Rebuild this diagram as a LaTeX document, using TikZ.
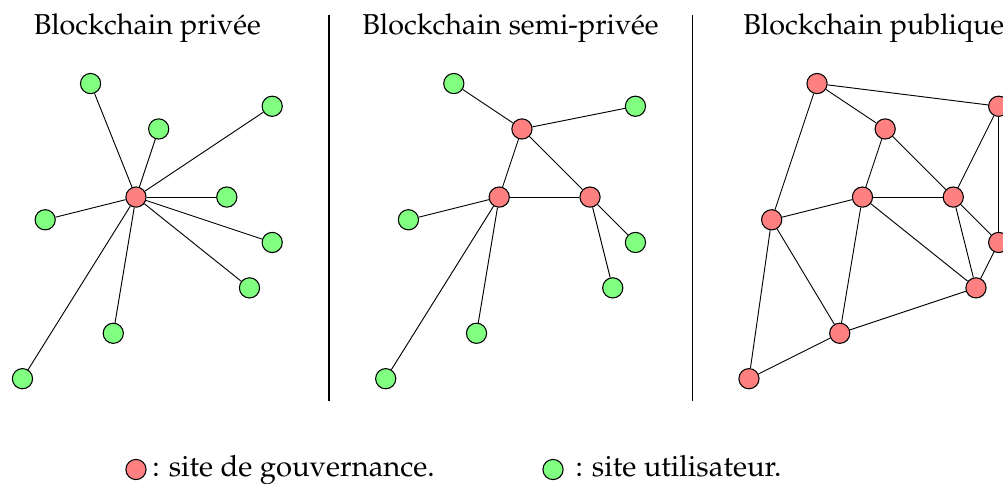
\documentclass[tikz,border=0pt]{standalone}
\usepackage[T1]{fontenc}
\usepackage{mathpazo}
\tikzset{
  site/.style={circle, draw=black, line width=0.4pt, minimum size=7.6pt, inner sep=0pt},
  gov/.style={site, fill=red!50},
  usr/.style={site, fill=green!50},
  link/.style={draw=black, line width=0.35pt},
  sep/.style={draw=black, line width=0.5pt},
  title/.style={anchor=base, inner sep=0pt, font=\fontsize{10.8}{13}\selectfont},
  legend/.style={anchor=base west, inner sep=0pt, font=\fontsize{11}{13}\selectfont}
}
\begin{document}
\begin{tikzpicture}[x=0.3cm, y=0.3cm]
\useasboundingbox (-5.99,-12.6) rectangle (38.19,8.68);

% --- private blockchain: one governance site, all users attached to it
\node[title] (tp) at (0.5,7.18) {Blockchain priv\'ee};
\node[gov] (p0) at (0,0) {};
\node[usr] (p1) at (-2,5) {};
\node[usr] (p2) at (6,4) {};
\node[usr] (p3) at (1,3) {};
\node[usr] (p4) at (4,0) {};
\node[usr] (p5) at (-4,-1) {};
\node[usr] (p6) at (6,-2) {};
\node[usr] (p7) at (5,-4) {};
\node[usr] (p8) at (-1,-6) {};
\node[usr] (p9) at (-5,-8) {};
\foreach \k in {1,...,9} \draw[link] (p0) -- (p\k);

% separators
\coordinate (s1t) at (8.5,8);
\coordinate (s1b) at (8.5,-9);
\coordinate (s2t) at (24.5,8);
\coordinate (s2b) at (24.5,-9);
\draw[sep] (s1t) -- (s1b);
\draw[sep] (s2t) -- (s2b);

% --- semi-private blockchain: three governance sites
\begin{scope}[shift={(16,0)}]
\node[title] (ts) at (0.5,7.18) {Blockchain semi-priv\'ee};
\node[usr] (s1) at (-2,5) {};
\node[usr] (s2) at (6,4) {};
\node[gov] (s3) at (1,3) {};
\node[gov] (s0) at (0,0) {};
\node[gov] (s4) at (4,0) {};
\node[usr] (s5) at (-4,-1) {};
\node[usr] (s6) at (6,-2) {};
\node[usr] (s7) at (5,-4) {};
\node[usr] (s8) at (-1,-6) {};
\node[usr] (s9) at (-5,-8) {};
\draw[link] (s1) -- (s3);
\draw[link] (s3) -- (s2);
\draw[link] (s3) -- (s0);
\draw[link] (s3) -- (s4);
\draw[link] (s0) -- (s4);
\draw[link] (s0) -- (s5);
\draw[link] (s0) -- (s8);
\draw[link] (s0) -- (s9);
\draw[link] (s4) -- (s6);
\draw[link] (s4) -- (s7);
\end{scope}

% --- public blockchain: every site governs, meshed network
\begin{scope}[shift={(32,0)}]
\node[title] (tu) at (0.5,7.18) {Blockchain publique};
\node[gov] (u1) at (-2,5) {};
\node[gov] (u2) at (6,4) {};
\node[gov] (u3) at (1,3) {};
\node[gov] (u0) at (0,0) {};
\node[gov] (u4) at (4,0) {};
\node[gov] (u5) at (-4,-1) {};
\node[gov] (u6) at (6,-2) {};
\node[gov] (u7) at (5,-4) {};
\node[gov] (u8) at (-1,-6) {};
\node[gov] (u9) at (-5,-8) {};
\draw[link] (u1) -- (u2);
\draw[link] (u1) -- (u3);
\draw[link] (u1) -- (u5);
\draw[link] (u3) -- (u0);
\draw[link] (u3) -- (u4);
\draw[link] (u2) -- (u4);
\draw[link] (u2) -- (u6);
\draw[link] (u0) -- (u4);
\draw[link] (u0) -- (u5);
\draw[link] (u0) -- (u8);
\draw[link] (u0) -- (u7);
\draw[link] (u4) -- (u6);
\draw[link] (u4) -- (u7);
\draw[link] (u6) -- (u7);
\draw[link] (u5) -- (u8);
\draw[link] (u5) -- (u9);
\draw[link] (u9) -- (u8);
\draw[link] (u8) -- (u7);
\end{scope}

% --- legend
\node[gov] (lg) at (0,-12) {};
\node[legend] (lgt) at (0.7,-12.29) {: site de gouvernance.};
\node[usr] (lu) at (18.37,-12) {};
\node[legend] (lut) at (19.34,-12.29) {: site utilisateur.};
\end{tikzpicture}
\end{document}
